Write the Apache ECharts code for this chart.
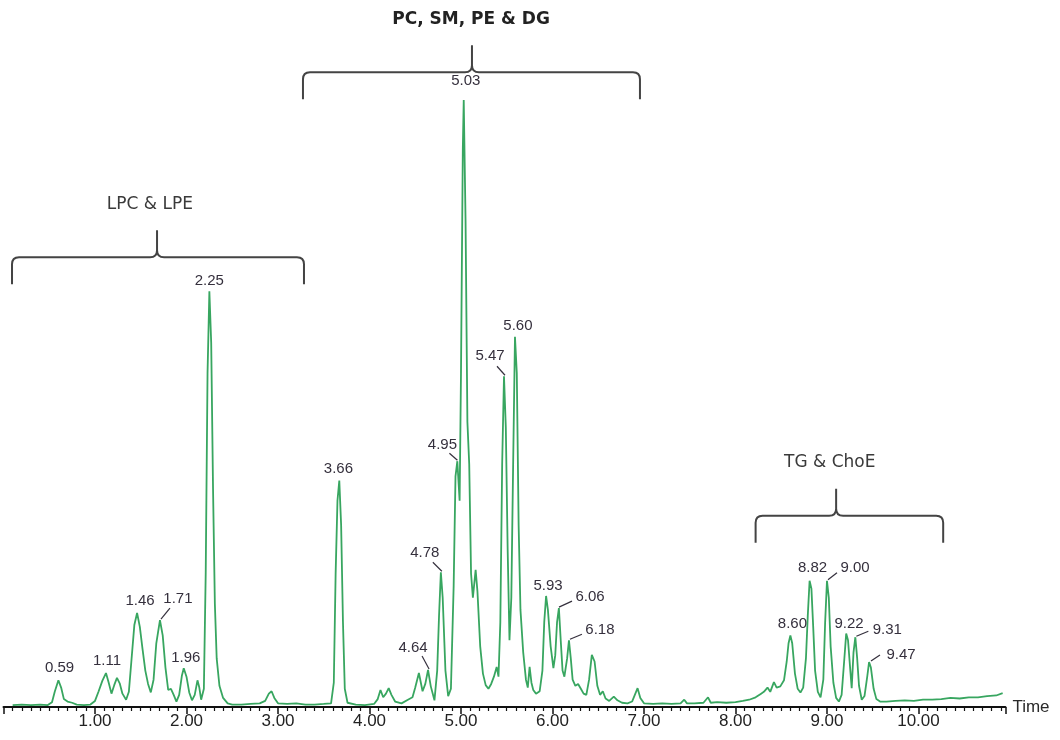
<!DOCTYPE html>
<html>
<head>
<meta charset="utf-8">
<script src="https://cdn.jsdelivr.net/npm/echarts@6/dist/echarts.min.js"></script>
<style>
  html, body { margin: 0; padding: 0; background: #ffffff; }
  #chart { width: 1060px; height: 740px; }
</style>
</head>
<body>
<div id="chart"></div>
<script>
// ---- chromatogram trace (retention time in minutes, relative intensity) ----
const retentionTime = [
  0.10,0.20,0.30,0.40,0.48,0.53,0.56,0.60,0.63,0.66,0.70,0.75,0.80,0.88,0.95,
  1.00,1.04,1.08,1.12,1.15,1.18,1.21,1.24,1.27,1.30,1.34,1.37,1.40,1.43,1.46,1.49,
  1.52,1.55,1.58,1.61,1.64,1.67,1.71,1.74,1.77,1.80,1.83,1.86,1.89,1.92,1.95,1.97,
  2.00,2.03,2.06,2.09,2.12,2.14,2.16,2.19,2.21,2.23,2.25,2.27,2.29,2.31,2.33,2.36,
  2.40,2.45,2.50,2.60,2.70,2.80,2.86,2.90,2.93,2.96,3.00,3.10,3.20,3.30,3.40,3.50,
  3.58,3.61,3.63,3.65,3.67,3.69,3.71,3.73,3.76,3.85,3.95,4.05,4.09,4.12,4.15,4.18,
  4.21,4.24,4.28,4.35,4.42,4.47,4.50,4.54,4.58,4.61,4.64,4.67,4.71,4.74,4.76,4.78,
  4.80,4.83,4.86,4.89,4.92,4.94,4.96,4.985,5.00,5.02,5.03,5.05,5.07,5.09,5.11,5.13,
  5.16,5.18,5.21,5.24,5.27,5.30,5.33,5.36,5.39,5.41,5.43,5.45,5.47,5.49,5.51,5.53,
  5.55,5.57,5.59,5.61,5.63,5.65,5.68,5.71,5.73,5.75,5.77,5.79,5.82,5.86,5.89,5.91,
  5.93,5.95,5.98,6.01,6.03,6.05,6.07,6.09,6.11,6.13,6.16,6.18,6.20,6.22,6.25,6.28,
  6.31,6.34,6.37,6.40,6.43,6.46,6.49,6.52,6.55,6.58,6.62,6.67,6.71,6.76,6.82,6.87,
  6.90,6.93,6.96,7.00,7.10,7.20,7.30,7.40,7.44,7.47,7.55,7.65,7.70,7.73,7.80,7.90,
  8.00,8.08,8.15,8.22,8.28,8.31,8.35,8.38,8.42,8.45,8.49,8.53,8.56,8.58,8.60,8.62,
  8.65,8.68,8.71,8.74,8.77,8.79,8.81,8.83,8.85,8.87,8.90,8.93,8.96,8.98,9.00,9.02,
  9.04,9.07,9.10,9.13,9.16,9.19,9.21,9.23,9.25,9.27,9.29,9.31,9.33,9.35,9.38,9.41,
  9.44,9.46,9.48,9.51,9.54,9.58,9.65,9.75,9.85,9.95,10.05,10.15,10.25,10.35,10.45,
  10.55,10.65,10.75,10.85,10.92
];
const intensity = [
  0.3,0.4,0.3,0.4,0.3,0.8,2.5,4.4,3.2,1.3,0.9,0.7,0.4,0.3,0.4,
  1.0,2.6,4.3,5.6,4.0,2.2,3.6,4.8,3.9,2.2,1.2,2.5,8.0,13.5,15.5,13.2,
  9.5,6.0,3.8,2.4,4.5,10.5,14.3,11.8,6.5,2.8,3.0,2.0,0.9,2.0,5.2,6.4,
  5.0,2.4,1.1,2.0,4.4,3.2,1.2,3.0,22,55,68.5,60,36,17,8,3.5,
  1.5,0.6,0.4,0.4,0.5,0.6,1.0,2.2,2.6,1.5,0.6,0.5,0.6,0.4,0.4,0.5,
  0.6,4,22,34,37.3,30,14,3,0.7,0.4,0.3,0.5,1.3,2.8,1.6,2.2,
  3.1,2.0,0.9,0.6,1.2,1.6,3.2,5.6,2.6,3.8,6.1,3.4,1.1,6.0,15,22.2,
  18,6,1.8,3.0,20,38,40.5,34,55,92,100,80,47,40,22,18,
  22.6,19,10,5.5,3.6,3.0,3.8,5.0,6.6,5.0,14,40,54.5,46,26,11,
  18,40,61,55,30,16,9,4.5,3.2,6.6,4.0,2.8,2.2,2.6,6,14,
  18.3,16,10,6.4,8.5,14,16.3,11,6,5.0,8,11,8,4.5,3.5,3.8,
  3.0,2.2,2.0,4.5,8.6,7.5,3.5,2.0,2.6,1.4,1.0,1.7,1.1,0.7,0.6,0.9,
  2.0,3.1,1.5,0.6,0.5,0.6,0.5,0.6,1.2,0.6,0.6,0.7,1.6,0.7,0.8,0.7,
  0.8,1.0,1.2,1.6,2.2,2.5,3.2,2.5,4.1,3.2,3.4,4.4,7.5,10.5,11.8,10.5,
  5.5,3.0,2.4,3.2,8,15,20.8,19.5,13,6,2.5,1.6,4.5,14,20.8,18,
  10,4,1.5,0.9,2.0,8,12.1,11,7,3.1,9,11.5,8,3.5,1.2,1.8,
  5,7.4,6.5,3,1.3,0.9,0.9,1.0,1.1,1.0,1.2,1.2,1.3,1.5,1.4,
  1.6,1.6,1.8,1.9,2.3
];

// ---- labelled peaks ----
const peakTime   = [0.59,1.11,1.46,1.71,1.96,2.25,3.66,4.64,4.78,4.95,5.03,5.47,5.60,5.93,6.06,6.18,8.60,8.82,9.00,9.22,9.31,9.47];
const peakHeight = [4.4,5.6,15.5,14.3,6.4,68.5,37.3,6.1,22.2,40.5,100,54.5,61,18.3,16.3,11,11.8,20.8,20.8,12.1,11.5,7.4];
const peakLabels = peakTime.map(t => t.toFixed(2));

// ---- lipid class groups ----
const groupNames = ['LPC & LPE', 'PC, SM, PE & DG', 'TG & ChoE'];
const groupStart = [0.093, 3.273, 8.22];
const groupEnd   = [3.284, 6.956, 10.27];
const groupTip   = [1.678, 5.12, 9.10];
const groupLevel = [74.1, 104.6, 31.5];

// ---- axis ticks ----
const tickStart = 0, tickEnd = 10.95, tickStep = 1;

// label placement (pixel offsets of text centre from apex) and leader end points
const labelOffset = [
  [2,-12],[2,-12],[3,-12],[18,-21],[3,-10],[0,-10],[0,-12],[-15,-22],[-16,-19],[-14,-16],[2,-19],
  [-14,-20],[2,-11],[2,-10],[32,-11],[31,-10],[2,-12],[2,-13],[28,-13],[2,-10],[32,-7],[31,-7]
];
const leaderEnd = [
  null,null,null,[10,-12],null,null,null,[-6,-14],[-8,-10],[-7,-8],null,
  [-7,-10],null,null,[14,-7],[13,-6],null,null,[10,-8],null,[13,-6],[10,-7]
];
const groupLabelX = [1.60, 5.11, 9.03];

const chart = echarts.init(document.getElementById('chart'), null, { renderer: 'canvas' });

const option = {
  backgroundColor: '#ffffff',
  animation: false,
  grid: { left: 3.5, right: 54.6, top: 0, bottom: 33, containLabel: false },
  xAxis: {
    type: 'value',
    min: tickStart, max: tickEnd, interval: tickStep,
    name: 'Time',
    nameLocation: 'end',
    nameGap: 7,
    nameTextStyle: { fontFamily: 'Liberation Sans', fontSize: 17, color: '#2a2a2a', verticalAlign: 'middle' },
    axisLine: { show: true, lineStyle: { color: '#111', width: 2 } },
    axisTick: { show: true, length: 7, lineStyle: { color: '#111', width: 1.5 } },
    minorTick: { show: true, splitNumber: 10, length: 4, lineStyle: { color: '#111', width: 1.2 } },
    splitLine: { show: false },
    axisLabel: {
      margin: 6,
      fontFamily: 'Liberation Sans', fontSize: 17, color: '#222',
      showMinLabel: false, showMaxLabel: false,
      formatter: v => (Math.abs(v - Math.round(v)) < 1e-6 && v > 0) ? v.toFixed(2) : ''
    }
  },
  yAxis: {
    type: 'value', min: 0, max: 116.5, show: false,
    splitLine: { show: false }
  },
  series: [
    {
      type: 'line',
      data: retentionTime.map((t, i) => [t, intensity[i]]),
      showSymbol: false,
      smooth: false,
      lineStyle: { color: '#38a660', width: 1.8 },
      z: 2
    },
    {
      type: 'custom',
      clip: false,
      z: 3,
      data: peakTime.map((t, i) => [t, peakHeight[i]]),
      encode: { x: 0, y: 1 },
      renderItem: function (params, api) {
        const i = params.dataIndex;
        const p = api.coord([api.value(0), api.value(1)]);
        const off = labelOffset[i];
        const children = [{
          type: 'text',
          x: p[0] + off[0], y: p[1] + off[1],
          style: {
            text: peakLabels[i],
            fontFamily: 'Liberation Sans', fontSize: 15,
            fill: '#35303d',
            align: 'center', verticalAlign: 'middle'
          }
        }];
        const le = leaderEnd[i];
        if (le) {
          children.push({
            type: 'line',
            shape: { x1: p[0] + 1, y1: p[1] - 1, x2: p[0] + le[0], y2: p[1] + le[1] },
            style: { stroke: '#35303d', lineWidth: 1.2 }
          });
        }
        return { type: 'group', children };
      }
    },
    {
      type: 'custom',
      clip: false,
      z: 3,
      data: groupNames.map((n, i) => [groupStart[i], groupEnd[i], groupTip[i], groupLevel[i], groupLabelX[i]]),
      encode: { x: [0, 1, 2, 4], y: 3 },
      renderItem: function (params, api) {
        const i = params.dataIndex;
        const a = api.coord([api.value(0), api.value(3)]);
        const b = api.coord([api.value(1), api.value(3)]);
        const m = api.coord([api.value(2), api.value(3)]);
        const lx = api.coord([api.value(4), api.value(3)])[0];
        const y = a[1], r = 7, drop = 27, tipH = 27;
        const x0 = a[0], x1 = b[0], xm = m[0];
        const d = [
          'M', x0, y + drop, 'L', x0, y + r, 'Q', x0, y, x0 + r, y,
          'L', xm - r, y, 'Q', xm, y, xm, y - r, 'L', xm, y - tipH,
          'M', xm, y - r, 'Q', xm, y, xm + r, y,
          'L', x1 - r, y, 'Q', x1, y, x1, y + r, 'L', x1, y + drop
        ].join(' ');
        return {
          type: 'group',
          children: [
            { type: 'path', shape: { pathData: d }, style: { stroke: '#444', lineWidth: 2, fill: null } },
            {
              type: 'text', x: lx, y: y - tipH - 26,
              style: {
                text: groupNames[i],
                fontFamily: 'DejaVu Sans', fontSize: 17,
                fontWeight: i === 1 ? 'bold' : 'normal',
                fill: i === 1 ? '#222' : '#3a3a3a',
                align: 'center', verticalAlign: 'middle'
              }
            }
          ]
        };
      }
    }
  ]
};
chart.setOption(option);
</script>
</body>
</html>
